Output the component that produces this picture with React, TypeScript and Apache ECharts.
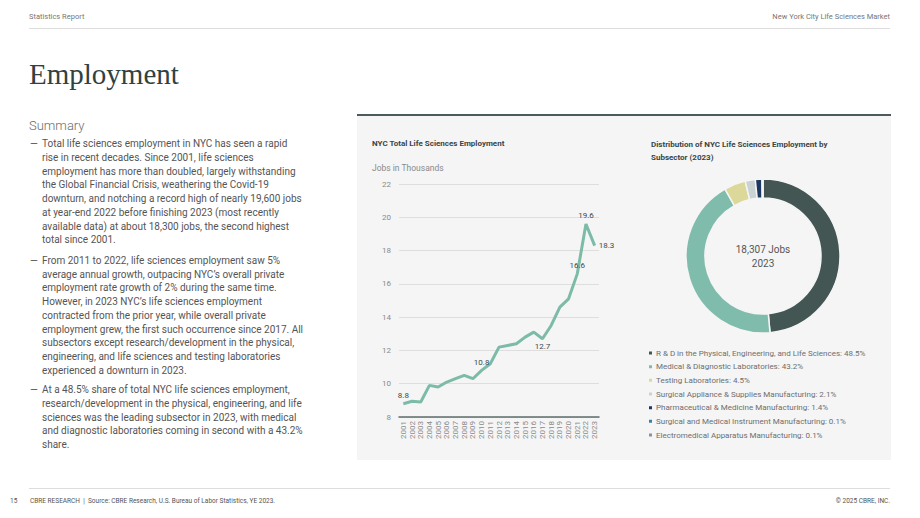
import React, { useEffect, useRef } from "react";
import * as echarts from "echarts";

const years = ["2001","2002","2003","2004","2005","2006","2007","2008","2009","2010","2011","2012","2013","2014","2015","2016","2017","2018","2019","2020","2021","2022","2023"];
const jobs = [8.8, 8.95, 8.9, 9.9, 9.8, 10.1, 10.3, 10.5, 10.3, 10.8, 11.2, 12.2, 12.3, 12.4, 12.8, 13.1, 12.7, 13.5, 14.6, 15.1, 16.6, 19.6, 18.3];
const labeledYears = ["2001", "2010", "2017", "2021", "2022", "2023"];
const labelSides = ["top", "top", "bottom", "top", "top", "right"];

const subsectors = [
  "R & D in the Physical, Engineering, and Life Sciences",
  "Medical & Diagnostic Laboratories",
  "Testing Laboratories",
  "Surgical Appliance & Supplies Manufacturing",
  "Pharmaceutical & Medicine Manufacturing",
  "Surgical and Medical Instrument Manufacturing",
  "Electromedical Apparatus Manufacturing",
];
const shares = [48.5, 43.2, 4.5, 2.1, 1.4, 0.1, 0.1];
const subColors = ["#435654", "#80bcac", "#dcd89a", "#cbd2d4", "#1d3763", "#3b7ea8", "#8b8fa6"];

const para1 = [
  "Total life sciences employment in NYC has seen a rapid",
  "rise in recent decades. Since 2001, life sciences",
  "employment has more than doubled, largely withstanding",
  "the Global Financial Crisis, weathering the Covid-19",
  "downturn, and notching a record high of nearly 19,600 jobs",
  "at year-end 2022 before finishing 2023 (most recently",
  "available data) at about 18,300 jobs, the second highest",
  "total since 2001.",
];
const para2 = [
  "From 2011 to 2022, life sciences employment saw 5%",
  "average annual growth, outpacing NYC\u2019s overall private",
  "employment rate growth of 2% during the same time.",
  "However, in 2023 NYC\u2019s life sciences employment",
  "contracted from the prior year, while overall private",
  "employment grew, the first such occurrence since 2017. All",
  "subsectors except research/development in the physical,",
  "engineering, and life sciences and testing laboratories",
  "experienced a downturn in 2023.",
];
const para3 = [
  "At a 48.5% share of total NYC life sciences employment,",
  "research/development in the physical, engineering, and life",
  "sciences was the leading subsector in 2023, with medical",
  "and diagnostic laboratories coming in second with a 43.2%",
  "share.",
];

const FONT = "Roboto, 'Noto Sans', sans-serif";

function Para({ lines, top }: { lines: string[]; top: number }) {
  return (
    <div style={{ position: "absolute", left: 0, top, width: 340 }}>
      <div style={{ position: "absolute", left: 30, top: 0, fontSize: 10, lineHeight: "13.75px", color: "#555" }}>{"\u2014"}</div>
      <div style={{ position: "absolute", left: 42, top: 0, fontSize: 10, lineHeight: "13.75px", color: "#555", whiteSpace: "nowrap" }}>
        {lines.map((l, i) => (
          <div key={i}>{l}</div>
        ))}
      </div>
    </div>
  );
}

export default function App() {
  const ref = useRef<HTMLDivElement>(null);
  useEffect(() => {
    const chart = echarts.init(ref.current!, null, { renderer: "svg" });
    const lineData = jobs.map((v, i) => {
      const k = labeledYears.indexOf(years[i]);
      if (k < 0) return { value: v, label: { show: false } };
      return {
        value: v,
        label: { show: true, position: labelSides[k], distance: 4 },
      };
    });
    chart.setOption({
      animation: false,
      backgroundColor: "#f5f5f5",
      textStyle: { fontFamily: FONT },
      title: [
        {
          text: "NYC Total Life Sciences Employment",
          left: 15,
          top: 23,
          padding: 0,
          textStyle: { fontSize: 8, fontWeight: "bold", color: "#3a4646", fontFamily: FONT },
        },
        {
          text: "Jobs in Thousands",
          left: 15,
          top: 47,
          padding: 0,
          textStyle: { fontSize: 8.5, fontWeight: "normal", color: "#8a8a8a", fontFamily: FONT },
        },
        {
          text: "Distribution of NYC Life Sciences Employment by\nSubsector (2023)",
          left: 294,
          top: 22,
          padding: 0,
          textStyle: { fontSize: 8, fontWeight: "bold", color: "#3a4646", lineHeight: 13, fontFamily: FONT },
        },
        {
          text: "18,307 Jobs\n2023",
          left: 406,
          top: 126,
          padding: 0,
          textAlign: "center",
          textStyle: { fontSize: 10, fontWeight: "normal", color: "#555", lineHeight: 14, fontFamily: FONT },
        },
      ],
      grid: { left: 42, top: 68, width: 200, bottom: 43 },
      xAxis: {
        type: "category",
        data: years,
        boundaryGap: true,
        axisLine: { lineStyle: { color: "#5d6d6b", width: 1.5 } },
        axisTick: { show: false },
        axisLabel: { rotate: 90, fontSize: 8, color: "#8a8a8a", margin: 4, interval: 0 },
      },
      yAxis: {
        type: "value",
        min: 8,
        max: 22,
        interval: 2,
        axisLine: { show: false },
        axisTick: { show: false },
        axisLabel: { fontSize: 8, color: "#8a8a8a", margin: 8, showMaxLabel: true, showMinLabel: true },
        splitLine: { show: true, lineStyle: { color: "#dedede", width: 1 } },
      },
      legend: {
        orient: "vertical",
        left: 290,
        top: 232,
        padding: 0,
        icon: "rect",
        itemWidth: 5,
        itemHeight: 5,
        itemGap: 3.67,
        data: subsectors,
        selectedMode: false,
        formatter: (name: string) => `${name}: ${shares[subsectors.indexOf(name)]}%`,
        textStyle: { fontSize: 8, color: "#6e6e6e", lineHeight: 10, padding: [0, 0, 0, -2], fontFamily: FONT },
      },
      series: [
        {
          type: "line",
          data: lineData,
          showSymbol: true,
          symbol: "circle",
          symbolSize: 0.1,
          lineStyle: { color: "#7dbba9", width: 3 },
          itemStyle: { color: "#7dbba9" },
          label: { fontSize: 8, color: "#3d4a4a" },
          z: 3,
        },
        {
          type: "pie",
          center: [406, 140],
          radius: [58, 77],
          startAngle: 90,
          clockwise: true,
          label: { show: false },
          labelLine: { show: false },
          itemStyle: { borderColor: "#f5f5f5", borderWidth: 1.5 },
          emphasis: { disabled: true },
          data: subsectors.map((n, i) => ({ name: n, value: shares[i], itemStyle: { color: subColors[i] } })),
        },
      ],
    });
    return () => chart.dispose();
  }, []);

  return (
    <div style={{ position: "absolute", left: 0, top: 0, width: 920, height: 518, background: "#fff", fontFamily: FONT, overflow: "hidden" }}>
      <div style={{ position: "absolute", left: 29, top: 12, fontSize: 7.5, lineHeight: "10px", color: "#777" }}>Statistics Report</div>
      <div style={{ position: "absolute", right: 30, top: 12, fontSize: 7.5, lineHeight: "10px", color: "#777" }}>New York City Life Sciences Market</div>
      <div style={{ position: "absolute", left: 29, top: 28, width: 861, height: 1, background: "#dddddd" }} />
      <div style={{ position: "absolute", left: 29, top: 59, fontSize: 29, lineHeight: "30px", color: "#2f4242", fontFamily: "'Liberation Serif', 'DejaVu Serif', serif" }}>Employment</div>
      <div style={{ position: "absolute", left: 29, top: 117, fontSize: 13, lineHeight: "18px", color: "#6b6b6b", fontWeight: 300 }}>Summary</div>
      <Para lines={para1} top={137.1} />
      <Para lines={para2} top={253.8} />
      <Para lines={para3} top={383.1} />
      <div style={{ position: "absolute", left: 357, top: 114, width: 534, height: 2, background: "#4b5a5a" }} />
      <div ref={ref} style={{ position: "absolute", left: 357, top: 116, width: 534, height: 344 }} />
      <div style={{ position: "absolute", left: 29, top: 488, width: 861, height: 1, background: "#dddddd" }} />
      <div style={{ position: "absolute", left: 10, top: 497, fontSize: 6.5, lineHeight: "8px", color: "#555" }}>15</div>
      <div style={{ position: "absolute", left: 30, top: 497, fontSize: 6.5, lineHeight: "8px", color: "#555", whiteSpace: "nowrap" }}>
        CBRE RESEARCH&nbsp;&nbsp;|&nbsp;&nbsp;Source: CBRE Research, U.S. Bureau of Labor Statistics, YE 2023.
      </div>
      <div style={{ position: "absolute", right: 30, top: 497, fontSize: 6.5, lineHeight: "8px", color: "#555" }}>{"\u00a9"} 2025 CBRE, INC.</div>
    </div>
  );
}
